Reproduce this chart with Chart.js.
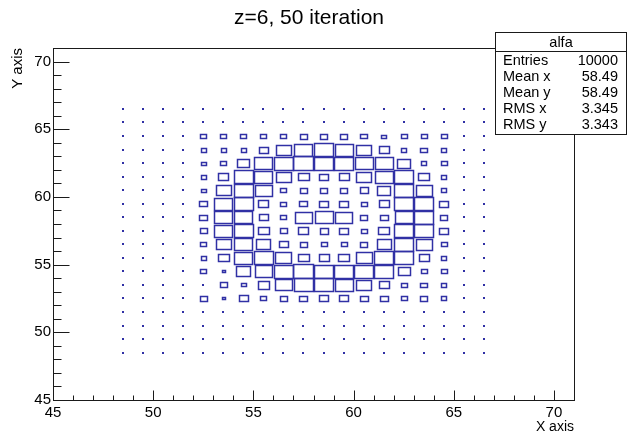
<!DOCTYPE html>
<html><head><meta charset="utf-8">
<style>html,body{margin:0;padding:0;background:#fff;}canvas{display:block;}</style>
<script src="https://cdn.jsdelivr.net/npm/chart.js@4/dist/chart.umd.min.js"></script>
</head><body>
<canvas id="c" width="631" height="439"></canvas>
<script>
const chartTitle = 'z=6, 50 iteration';
const histName = 'alfa';
const statLabels = ['Entries', 'Mean x', 'Mean y', 'RMS x', 'RMS y'];
const statValues = ['10000', '58.49', '58.49', '3.345', '3.343'];
const xAxisTitle = 'X axis';
const yAxisTitle = 'Y axis';
const xRange = [45, 71];
const yRange = [45, 71];
const xTicks = [45, 50, 55, 60, 65, 70];
const yTicks = [45, 50, 55, 60, 65, 70];
const xBinCenters = [48.5, 49.5, 50.5, 51.5, 52.5, 53.5, 54.5, 55.5, 56.5, 57.5, 58.5, 59.5, 60.5, 61.5, 62.5, 63.5, 64.5, 65.5, 66.5];
// rows listed from top (66.5) to bottom (48.5)
const yBinCenters = [66.5, 65.5, 64.5, 63.5, 62.5, 61.5, 60.5, 59.5, 58.5, 57.5, 56.5, 55.5, 54.5, 53.5, 52.5, 51.5, 50.5, 49.5, 48.5];
const counts = [
  [2,2,2,2,2,2,2,2,2,2,2,2,2,2,2,2,2,2,2],
  [2,2,2,2,2,3,2,3,3,3,3,3,2,3,2,2,2,2,2],
  [2,2,2,3,12,12,12,14,14,21,21,18,16,8,14,12,12,2,2],
  [2,2,3,3,11,11,11,30,84,122,135,127,84,38,11,16,11,2,2],
  [2,2,2,3,9,14,50,127,141,150,141,141,127,122,63,11,14,3,2],
  [3,2,2,3,11,35,141,127,84,45,30,38,89,127,135,45,11,3,2],
  [2,2,2,3,9,84,141,103,14,18,21,18,26,67,141,91,11,3,2],
  [2,2,2,3,24,127,141,38,12,24,28,28,15,38,130,135,28,3,2],
  [2,2,2,3,24,127,127,33,14,108,127,103,21,24,127,141,21,3,2],
  [2,2,2,3,18,122,141,42,21,38,26,30,15,45,135,141,28,3,2],
  [2,2,3,3,14,84,127,78,28,21,15,15,21,78,135,96,14,3,2],
  [2,2,2,3,11,45,127,141,96,45,38,45,96,135,135,38,11,3,2],
  [2,2,2,3,15,4,74,114,141,150,135,141,141,135,58,15,14,3,2],
  [2,2,2,3,3,21,8,49,103,135,135,127,89,41,14,16,11,3,2],
  [2,2,2,3,21,4,28,12,18,22,30,28,24,22,15,18,11,2,2],
  [2,2,2,3,3,3,3,3,3,3,3,3,3,3,3,3,3,2,2],
  [2,2,2,2,2,2,2,2,2,2,2,2,2,2,2,2,2,2,2],
  [2,2,2,2,2,2,2,2,2,2,2,2,2,2,2,2,2,2,2],
  [2,2,2,2,2,2,2,2,2,2,2,2,2,2,2,2,2,2,2]
];

const FONT = '"Liberation Sans", Arial, Helvetica, sans-serif';
const boxColor = 'rgb(48,48,165)';
const axisColor = '#1a1a1a';

const points = [];
yBinCenters.forEach((yv, r) => {
  xBinCenters.forEach((xv, c) => {
    points.push({ x: xv, y: yv, v: counts[r][c] });
  });
});

const boxPlugin = {
  id: 'boxes',
  afterDatasetsDraw(chart) {
    const ctx = chart.ctx;
    const meta = chart.getDatasetMeta(0);
    const xs = chart.scales.x, ys = chart.scales.y;
    const bw = xs.getPixelForValue(1) - xs.getPixelForValue(0);
    const bh = ys.getPixelForValue(0) - ys.getPixelForValue(1);
    const vmax = Math.max(...points.map(p => p.v));
    ctx.save();
    ctx.strokeStyle = boxColor;
    ctx.fillStyle = boxColor;
    ctx.lineWidth = 1.5;
    meta.data.forEach((el, i) => {
      const v = points[i].v;
      if (v <= 0) return;
      const f = Math.sqrt(v / vmax);
      const w = f * bw, h = f * bh;
      if (w < 3) {
        ctx.fillRect(Math.round(el.x - 1), Math.round(el.y - 1), 2, 2);
        return;
      }
      const rw = Math.round(w), rh = Math.max(1, Math.round(h));
      const x0 = Math.round(el.x - rw / 2) + 0.5;
      const y0 = Math.round(el.y - rh / 2) + 0.5;
      ctx.strokeRect(x0, y0, rw, rh);
    });
    ctx.restore();
  }
};

const framePlugin = {
  id: 'rootframe',
  afterDraw(chart) {
    const ctx = chart.ctx;
    const a = chart.chartArea;
    const xs = chart.scales.x, ys = chart.scales.y;
    ctx.save();
    ctx.strokeStyle = axisColor;
    ctx.lineWidth = 1;
    const L = Math.round(a.left) + 0.5, R = Math.round(a.right) + 0.5;
    const T = Math.round(a.top) + 0.5, B = Math.round(a.bottom) + 0.5;
    ctx.strokeRect(L, T, R - L, B - T);
    ctx.beginPath();
    for (let v = xRange[0]; v <= xRange[1]; v++) {
      const px = Math.round(xs.getPixelForValue(v)) + 0.5;
      const len = xTicks.includes(v) ? 10 : 5;
      ctx.moveTo(px, B); ctx.lineTo(px, B - len);
    }
    for (let v = yRange[0]; v <= yRange[1]; v++) {
      const py = Math.round(ys.getPixelForValue(v)) + 0.5;
      const len = yTicks.includes(v) ? 16 : 8;
      ctx.moveTo(L, py); ctx.lineTo(L + len, py);
    }
    ctx.stroke();

    // title
    ctx.fillStyle = '#000';
    ctx.font = '21px ' + FONT;
    ctx.textAlign = 'center';
    ctx.textBaseline = 'middle';
    ctx.fillText(chartTitle, 309, 18);

    // stats box
    const sx0 = 495.5, sx1 = 626.5, sy0 = 32.5, sy1 = 134.5, sep = 51.5;
    ctx.fillStyle = '#fff';
    ctx.fillRect(sx0, sy0, sx1 - sx0, sy1 - sy0);
    ctx.strokeRect(sx0, sy0, sx1 - sx0, sy1 - sy0);
    ctx.beginPath(); ctx.moveTo(sx0, sep); ctx.lineTo(sx1, sep); ctx.stroke();
    ctx.fillStyle = '#000';
    ctx.font = '14.5px ' + FONT;
    ctx.textAlign = 'center';
    ctx.fillText(histName, (sx0 + sx1) / 2, 42.5);
    statLabels.forEach((lab, k) => {
      const yy = 60.5 + 16.1 * k;
      ctx.textAlign = 'left';
      ctx.fillText(lab, 503, yy);
      ctx.textAlign = 'right';
      ctx.fillText(statValues[k], 618, yy);
    });
    ctx.restore();
  }
};

Chart.defaults.font.family = FONT;
Chart.defaults.color = '#000';

new Chart(document.getElementById('c'), {
  type: 'scatter',
  data: {
    datasets: [{
      label: histName,
      data: points,
      pointRadius: 0,
      pointHoverRadius: 0,
      showLine: false
    }]
  },
  options: {
    responsive: false,
    animation: false,
    devicePixelRatio: 1,
    events: [],
    layout: { padding: { top: 48, right: 57, left: 0, bottom: 0 } },
    plugins: { legend: { display: false }, tooltip: { enabled: false }, title: { display: false } },
    scales: {
      x: {
        type: 'linear', min: xRange[0], max: xRange[1],
        afterFit(s) { s.height = 39; },
        afterBuildTicks(s) { s.ticks = xTicks.map(v => ({ value: v })); },
        grid: { display: false, drawTicks: false },
        border: { display: false },
        ticks: { autoSkip: false, maxRotation: 0, minRotation: 0, padding: 4, color: '#000', font: { size: 15 } },
        title: { display: true, text: xAxisTitle, align: 'end', color: '#000', font: { size: 14 }, padding: { top: 0, bottom: 3 } }
      },
      y: {
        type: 'linear', min: yRange[0], max: yRange[1],
        afterFit(s) { s.width = 53; },
        afterBuildTicks(s) { s.ticks = yTicks.map(v => ({ value: v })); },
        grid: { display: false, drawTicks: false },
        border: { display: false },
        ticks: { autoSkip: false, padding: 2, color: '#000', font: { size: 15 } },
        title: { display: true, text: yAxisTitle, align: 'end', color: '#000', font: { size: 15 }, padding: { top: 9, bottom: 0 } }
      }
    }
  },
  plugins: [boxPlugin, framePlugin]
});
</script>
</body></html>
